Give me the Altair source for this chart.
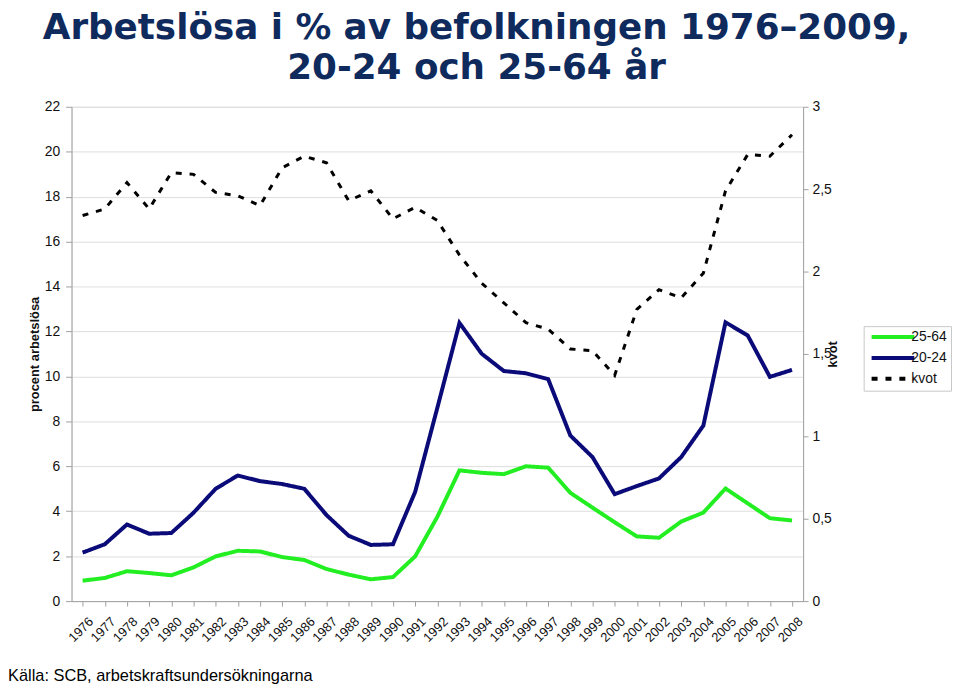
import altair as alt
import pandas as pd

years = [str(y) for y in range(1976, 2009)]

age_25_64 = [0.91, 1.03, 1.33, 1.25, 1.15, 1.50, 1.99, 2.24, 2.21, 1.96, 1.83,
             1.43, 1.18, 0.97, 1.07, 1.99, 3.75, 5.82, 5.71, 5.65, 6.00, 5.94,
             4.82, 4.16, 3.51, 2.88, 2.82, 3.54, 3.94, 5.01, 4.35, 3.69, 3.59]

age_20_24 = [2.16, 2.53, 3.41, 3.00, 3.03, 3.93, 5.00, 5.59, 5.34, 5.21, 5.00,
             3.83, 2.91, 2.50, 2.53, 4.86, 8.60, 12.38, 11.01, 10.24, 10.14, 9.88,
             7.37, 6.41, 4.76, 5.12, 5.46, 6.41, 7.81, 12.41, 11.82, 9.98, 10.29]

kvot = [2.34, 2.38, 2.54, 2.38, 2.60, 2.59, 2.48, 2.46, 2.40, 2.63, 2.70,
        2.66, 2.43, 2.49, 2.32, 2.39, 2.31, 2.10, 1.93, 1.81, 1.69, 1.65,
        1.53, 1.52, 1.37, 1.77, 1.89, 1.84, 1.99, 2.49, 2.71, 2.70, 2.83]

series_names = ["25-64", "20-24", "kvot"]
series_colors = ["#22ee22", "#0a0a78", "#000000"]
series_dash = [[1, 0], [1, 0], [6, 8]]

title_line1 = "Arbetslösa i %  av befolkningen 1976–2009,"
title_line2 = "20-24 och 25-64 år"
source_text = "Källa: SCB, arbetskraftsundersökningarna"
left_title = "procent arbetslösa"
right_title = "kvot"

df_pct = pd.DataFrame({
    "year": years * 2,
    "value": age_25_64 + age_20_24,
    "series": [series_names[0]] * len(years) + [series_names[1]] * len(years),
})
df_kvot = pd.DataFrame({"year": years, "value": kvot, "series": series_names[2]})

color_scale = alt.Scale(domain=series_names, range=series_colors)
dash_scale = alt.Scale(domain=series_names, range=series_dash)

x_enc = alt.X("year:O", sort=years, scale=alt.Scale(paddingInner=0, paddingOuter=0),
              axis=alt.Axis(title=None, labelAngle=315, labelFontSize=13, labelColor="#111",
                            domainColor="#a0a0a0", tickColor="#a0a0a0", tickSize=5,
                            labelPadding=9, bandPosition=0, labelOffset=4))

pct = alt.Chart(df_pct).mark_line(strokeWidth=4).encode(
    x=x_enc,
    y=alt.Y("value:Q", scale=alt.Scale(domain=[0, 22], nice=False),
            axis=alt.Axis(orient="left", title=left_title, values=list(range(0, 23, 2)),
                          grid=True, gridColor="#dedede", labelFontSize=14, labelColor="#111",
                          titleFontSize=13, titleFontWeight="bold", titleColor="#111",
                          domainColor="#a0a0a0", tickColor="#a0a0a0", tickSize=6,
                          labelPadding=6, titlePadding=3)),
    color=alt.Color("series:N", scale=color_scale, legend=alt.Legend(title=None)),
    strokeDash=alt.StrokeDash("series:N", scale=dash_scale, legend=alt.Legend(title=None)),
)

kv = alt.Chart(df_kvot).mark_line(strokeWidth=3).encode(
    x=x_enc,
    y=alt.Y("value:Q", scale=alt.Scale(domain=[0, 3], nice=False),
            axis=alt.Axis(orient="right", title=right_title, values=[0, 0.5, 1, 1.5, 2, 2.5, 3],
                          grid=False, labelFontSize=14, labelColor="#111",
                          labelExpr="replace(toString(datum.value), '.', ',')",
                          titleFontSize=13, titleFontWeight="bold", titleColor="#111",
                          titleAngle=270,
                          domainColor="#a0a0a0", tickColor="#a0a0a0", tickSize=5,
                          labelPadding=4, titlePadding=8)),
    color=alt.Color("series:N", scale=color_scale, legend=alt.Legend(title=None)),
    strokeDash=alt.StrokeDash("series:N", scale=dash_scale, legend=alt.Legend(title=None)),
)

t1 = alt.Chart(pd.DataFrame({"t": [title_line1]})).mark_text(
    font="DejaVu Sans", fontSize=36, fontWeight="bold", color="#0f2a5c",
    align="center", baseline="alphabetic"
).encode(text="t:N", x=alt.value(408), y=alt.value(-68))

t2 = alt.Chart(pd.DataFrame({"t": [title_line2]})).mark_text(
    font="DejaVu Sans", fontSize=36, fontWeight="bold", color="#0f2a5c",
    align="center", baseline="alphabetic"
).encode(text="t:N", x=alt.value(408), y=alt.value(-28))

src = alt.Chart(pd.DataFrame({"t": [source_text]})).mark_text(
    font="Liberation Sans", fontSize=16.5, color="#000",
    align="left", baseline="alphabetic"
).encode(text="t:N", x=alt.value(-64), y=alt.value(578))

chart = alt.layer(pct, kv, t1, t2, src).resolve_scale(
    y="independent", color="shared", strokeDash="shared"
).properties(
    width=737, height=498,
    padding={"left": 64, "top": 97, "right": 150, "bottom": 82},
    autosize=alt.AutoSizeParams(type="none"),
).configure_view(strokeWidth=0).configure(
    font="Liberation Sans"
).configure_legend(
    orient="none", legendX=798, legendY=221, padding=4, strokeColor="#c8c8c8",
    fillColor="#ffffff", symbolType="M-1.5,0H20", symbolSize=16, symbolStrokeWidth=4,
    labelFontSize=14, labelColor="#111", rowPadding=5, labelOffset=30, labelLimit=300,
    cornerRadius=0
)

chart.save("out.html", embed_options={"renderer": "svg", "actions": False})
